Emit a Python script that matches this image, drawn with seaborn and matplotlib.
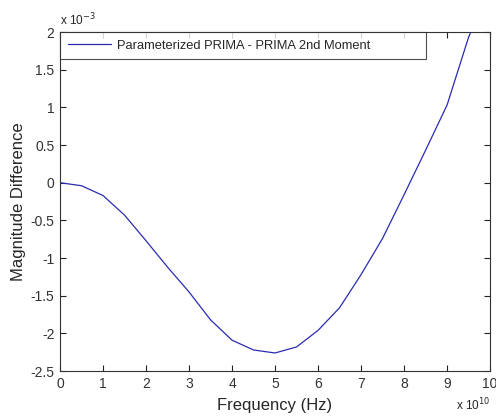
import matplotlib
matplotlib.use('Agg')
import matplotlib.pyplot as plt
import seaborn as sns
import pandas as pd

# frequency in units of 1e10 Hz, difference in units of 1e-3
freq = [0, 0.5, 1, 1.5, 2, 2.5, 3, 3.5, 4, 4.5, 5, 5.5, 6, 6.5, 7, 7.5, 8, 8.5, 9, 9.5, 10]
diff = [0, -0.04, -0.17, -0.43, -0.77, -1.12, -1.45, -1.82, -2.09, -2.22, -2.26, -2.18,
        -1.96, -1.66, -1.22, -0.74, -0.16, 0.43, 1.03, 1.93, 2.6]
series_name = 'Parameterized PRIMA - PRIMA 2nd Moment'
x_ticks = [0, 1, 2, 3, 4, 5, 6, 7, 8, 9, 10]
y_ticks = [-2.5, -2, -1.5, -1, -0.5, 0, 0.5, 1, 1.5, 2]

sns.set_style('white')
plt.rcParams['font.family'] = ['Liberation Sans', 'DejaVu Sans']

df = pd.DataFrame({'freq': freq, 'diff': diff, 'series': series_name})

fig = plt.figure(figsize=(4.96, 4.16), dpi=100)
ax = fig.add_axes([0.121, 0.108, 0.867, 0.815])
sns.lineplot(data=df, x='freq', y='diff', hue='series', palette=['#2b2bb0'],
             linewidth=0.9, ax=ax)

ax.set_xlim(0, 10)
ax.set_ylim(-2.5, 2)
ax.set_xticks(x_ticks)
ax.set_yticks(y_ticks)
ax.set_xticklabels([f'{t:g}' for t in x_ticks], fontsize=10)
ax.set_yticklabels([f'{t:g}' for t in y_ticks], fontsize=10)
ax.tick_params(direction='in', length=4, width=0.8, top=True, right=True,
               bottom=True, left=True, colors='#222222', labelcolor='#333333', pad=4)
for s in ax.spines.values():
    s.set_color('#333333')
    s.set_linewidth(0.8)

ax.set_xlabel('Frequency (Hz)', fontsize=12, labelpad=5)
ax.set_ylabel('Magnitude Difference', fontsize=12, labelpad=3)

ax.text(0.0, 1.012, r'x 10$^{-3}$', transform=ax.transAxes, fontsize=8.5,
        ha='left', va='bottom')
ax.text(1.0, -0.075, r'x 10$^{10}$', transform=ax.transAxes, fontsize=8.5,
        ha='right', va='top')

# wide MATLAB-like legend box
leg = ax.legend(loc='upper left', bbox_to_anchor=(0, 1, 0.852, 0), mode='expand',
                fontsize=9.3, frameon=True, fancybox=False, borderaxespad=0,
                handlelength=3.4, handletextpad=0.45, borderpad=0.58)
leg.get_frame().set_edgecolor('#222222')
leg.get_frame().set_linewidth(0.8)
leg.set_title(None)

fig.savefig('out.png', dpi=100)
